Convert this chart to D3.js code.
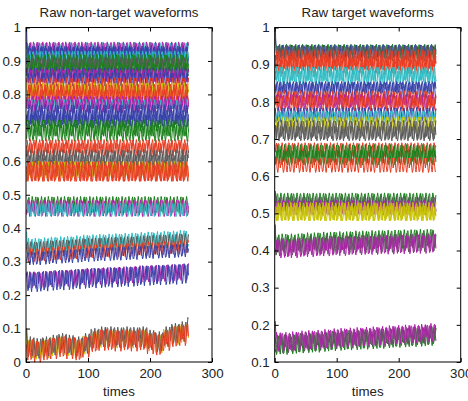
<!DOCTYPE html>
<html>
<head>
<meta charset="utf-8">
<script src="https://cdn.jsdelivr.net/npm/d3@7/dist/d3.min.js"></script>
<style>
    body { margin: 0; background: #fff; }
    svg text { font-family: "Liberation Sans", Arial, Helvetica, sans-serif; fill: #222; }
    .tick line { stroke: #000; }
</style>
</head>
<body>
<svg class="graph" width="468" height="401"></svg>
<script>
// one cycle-ish shape of the ripple (about 5 cycles in 26 samples)
var wavePattern = [0.2, 0.9, 0.8, -0.3, -1, -0.7, 0.4, 1, 0.5, -0.6, -0.95, -0.1, 0.85,
    0.9, -0.2, -0.9, -0.8, 0.3, 1, 0.6, -0.5, -1, -0.3, 0.7, 0.95, -0.4];

// slow drift of a trace, one value per 13 samples
var trendFlat = [0, 0, 0, 0, 0, 0, 0, 0, 0, 0, 0, 0, 0, 0, 0, 0, 0, 0, 0, 0, 0];
var trendRise = [0, 0, 0.002, 0.004, 0.005, 0.006, 0.008, 0.01, 0.011, 0.012, 0.013,
    0.014, 0.015, 0.016, 0.018, 0.019, 0.02, 0.021, 0.022, 0.024, 0.025];
var trendLift = [0, 0, 0, 0.002, 0.003, 0.004, 0.005, 0.006, 0.006, 0.007, 0.008,
    0.008, 0.009, 0.01, 0.01, 0.011, 0.011, 0.012, 0.012, 0.013, 0.013];
var trendBottom = [0.04, 0.035, 0.04, 0.045, 0.05, 0.045, 0.04, 0.05, 0.065, 0.07, 0.07,
    0.068, 0.07, 0.068, 0.07, 0.06, 0.055, 0.07, 0.08, 0.085, 0.1];
var trends = { flat: trendFlat, rise: trendRise, lift: trendLift, bottom: trendBottom };

var colors = {
    b: "#3540a8", g: "#1a801a", r: "#e83c22", c: "#2cbcc4",
    m: "#b020ac", y: "#c8c400", k: "#5a5a5a"
};

var nonTargetLevels = [0.93, 0.935, 0.925, 0.915, 0.91, 0.895, 0.885, 0.89, 0.875, 0.86,
    0.855, 0.845, 0.825, 0.81, 0.805, 0.795, 0.775, 0.77, 0.765, 0.745,
    0.73, 0.72, 0.70, 0.685, 0.645, 0.635, 0.61, 0.60, 0.575, 0.57,
    0.565, 0.47, 0.46, 0.455, 0.345, 0.34, 0.32, 0.31, 0.245, 0.24,
    0, 0.006, -0.004];
var nonTargetSwings = [0.025, 0.022, 0.02, 0.025, 0.02, 0.025, 0.025, 0.02, 0.02, 0.02,
    0.02, 0.02, 0.025, 0.025, 0.025, 0.02, 0.02, 0.015, 0.02, 0.025,
    0.025, 0.02, 0.025, 0.025, 0.02, 0.02, 0.025, 0.02, 0.025, 0.03,
    0.025, 0.025, 0.025, 0.02, 0.025, 0.02, 0.02, 0.02, 0.025, 0.03,
    0.028, 0.03, 0.032];
var nonTargetColors = ["c", "m", "b", "b", "c", "g", "g", "k", "g", "b",
    "m", "b", "r", "y", "r", "r", "m", "c", "m", "b",
    "b", "b", "g", "g", "r", "r", "k", "k", "y", "r",
    "r", "g", "m", "c", "c", "k", "r", "b", "m", "b",
    "y", "k", "r"];
var nonTargetTrends = ["flat", "flat", "flat", "flat", "flat", "flat", "flat", "flat", "flat", "flat",
    "flat", "flat", "flat", "flat", "flat", "flat", "flat", "flat", "flat", "flat",
    "flat", "flat", "flat", "flat", "flat", "flat", "flat", "flat", "flat", "flat",
    "flat", "flat", "flat", "flat", "rise", "rise", "rise", "rise", "rise", "rise",
    "bottom", "bottom", "bottom"];
var nonTargetStarts = { 2: 1.0, 34: 0.39, 40: 0.1, 41: 0.1 };

var targetLevels = [0.935, 0.935, 0.93, 0.915, 0.905, 0.895, 0.875, 0.865, 0.84, 0.83,
    0.81, 0.80, 0.795, 0.765, 0.76, 0.74, 0.725, 0.715, 0.67, 0.66,
    0.65, 0.63, 0.535, 0.525, 0.515, 0.505, 0.50, 0.42, 0.41, 0.405,
    0.145, 0.15, 0.155];
var targetSwings = [0.02, 0.018, 0.02, 0.025, 0.02, 0.02, 0.02, 0.02, 0.015, 0.02,
    0.02, 0.02, 0.02, 0.02, 0.015, 0.02, 0.025, 0.02, 0.02, 0.025,
    0.02, 0.02, 0.02, 0.02, 0.02, 0.025, 0.02, 0.025, 0.025, 0.025,
    0.025, 0.025, 0.025];
var targetColors = ["g", "b", "k", "r", "r", "r", "c", "c", "b", "b",
    "r", "m", "r", "b", "c", "y", "k", "k", "r", "g",
    "g", "r", "g", "k", "m", "y", "y", "g", "k", "m",
    "g", "k", "m"];
var targetTrends = ["flat", "flat", "flat", "flat", "flat", "flat", "flat", "flat", "flat", "flat",
    "flat", "flat", "flat", "flat", "flat", "flat", "flat", "flat", "flat", "flat",
    "flat", "flat", "flat", "flat", "flat", "flat", "flat", "lift", "lift", "lift",
    "rise", "rise", "rise"];
var targetStarts = { 0: 0.97, 1: 1.0, 22: 0.56, 29: 0.47, 32: 0.21 };

var xTicks = [0, 100, 200, 300];
var nonTargetYTicks = [0, 0.1, 0.2, 0.3, 0.4, 0.5, 0.6, 0.7, 0.8, 0.9, 1];
var targetYTicks = [0.1, 0.2, 0.3, 0.4, 0.5, 0.6, 0.7, 0.8, 0.9, 1];

function buildSeries(levels, swings, trendKeys, starts, sampleCount) {
    return levels.map(function (level, lineIndex) {
        var trend = trends[trendKeys[lineIndex]];
        var phase = (lineIndex * 7) % wavePattern.length;
        var values = [];
        for (var i = 0; i < sampleCount; i++) {
            var drift = trend[Math.min(Math.floor(i / 13), trend.length - 1)];
            var v = level + drift + swings[lineIndex] * wavePattern[(i + phase) % wavePattern.length];
            if (i === 0 && starts[lineIndex] !== undefined) {
                v = starts[lineIndex];
            }
            values.push(v);
        }
        return values;
    });
}

function drawPanel(svg, opts) {
    var xScale = d3.scaleLinear()
        .domain([0, 300])
        .range([opts.left, opts.left + 186]);
    var yScale = d3.scaleLinear()
        .domain(opts.yDomain)
        .range([362, 27.5]);

    var g = svg.append("g");

    var line = d3.line()
        .x(function (d, i) { return xScale(i + 1); })
        .y(function (d) { return yScale(d); });

    g.selectAll("path.trace")
        .data(opts.series)
        .enter()
        .append("path")
        .classed("trace", true)
        .attr("fill", "none")
        .attr("stroke", function (d, i) { return colors[opts.colors[i]]; })
        .attr("stroke-width", 1)
        .attr("d", line);

    var fmt = d3.format("~g");
    g.append("g")
        .attr("transform", "translate(0,362)")
        .call(d3.axisBottom(xScale).tickValues(xTicks).tickSize(-4).tickPadding(7).tickFormat(fmt));
    g.append("g")
        .attr("transform", "translate(0,27.5)")
        .call(d3.axisTop(xScale).tickValues(xTicks).tickSize(-4).tickFormat(""));
    g.append("g")
        .attr("transform", "translate(" + opts.left + ",0)")
        .call(d3.axisLeft(yScale).tickValues(opts.yTicks).tickSize(-4).tickPadding(5).tickFormat(fmt));
    g.append("g")
        .attr("transform", "translate(" + (opts.left + 186) + ",0)")
        .call(d3.axisRight(yScale).tickValues(opts.yTicks).tickSize(-4).tickFormat(""));

    g.selectAll(".domain").remove();
    g.selectAll(".tick text")
        .attr("font-size", 13.3)
        .attr("fill", "#222");

    g.append("rect")
        .attr("x", opts.left)
        .attr("y", 27.5)
        .attr("width", 186)
        .attr("height", 334.5)
        .attr("fill", "none")
        .attr("stroke", "#000")
        .attr("stroke-width", 1);

    g.append("text")
        .attr("x", opts.left + 93)
        .attr("y", 17)
        .attr("text-anchor", "middle")
        .attr("font-size", 13.3)
        .text(opts.title);

    g.append("text")
        .attr("x", opts.left + 93)
        .attr("y", 396)
        .attr("text-anchor", "middle")
        .attr("font-size", 13.3)
        .text("times");
}

var svg = d3.select("svg.graph");

drawPanel(svg, {
    left: 26,
    yDomain: [0, 1],
    yTicks: nonTargetYTicks,
    title: "Raw non-target waveforms",
    colors: nonTargetColors,
    series: buildSeries(nonTargetLevels, nonTargetSwings, nonTargetTrends, nonTargetStarts, 262)
});

drawPanel(svg, {
    left: 274.7,
    yDomain: [0.1, 1],
    yTicks: targetYTicks,
    title: "Raw target waveforms",
    colors: targetColors,
    series: buildSeries(targetLevels, targetSwings, targetTrends, targetStarts, 260)
});
</script>
</body>
</html>
